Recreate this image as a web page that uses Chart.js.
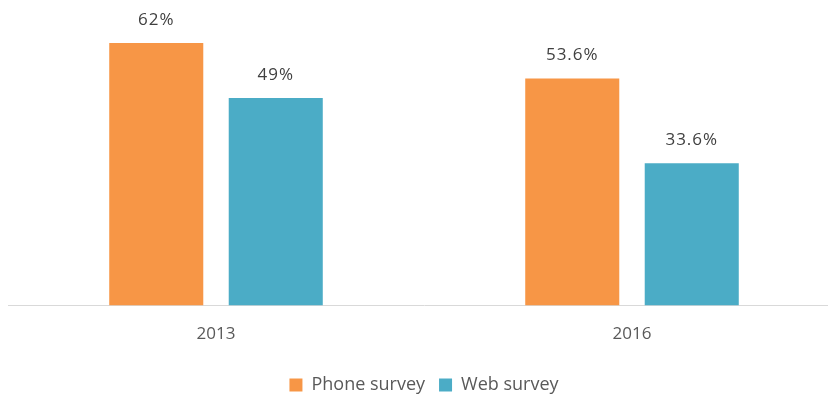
<!DOCTYPE html>
<html>
<head>
<meta charset="utf-8">
<script src="https://cdn.jsdelivr.net/npm/chart.js@4/dist/chart.umd.min.js"></script>
<style>
  html, body { margin: 0; padding: 0; background: #fff; overflow: hidden; }
  #wrap { width: 842px; height: 395px; position: relative; }
</style>
</head>
<body>
<div id="wrap"><canvas id="chart"></canvas></div>
<script>
const years = ['2013', '2016'];
const phoneSurvey = [62, 53.6];
const webSurvey = [49, 33.6];

const phoneColor = '#F79646';
const webColor = '#4BACC6';
const fontFamily = '"Open Sans", sans-serif';

// writes the value above each bar
const valueLabels = {
    id: 'valueLabels',
    afterDatasetsDraw(chart) {
        const ctx = chart.ctx;
        ctx.save();
        ctx.font = '17px ' + fontFamily;
        ctx.letterSpacing = '1px';
        ctx.fillStyle = '#404040';
        ctx.textAlign = 'center';
        ctx.textBaseline = 'middle';
        chart.data.datasets.forEach((ds, i) => {
            chart.getDatasetMeta(i).data.forEach((bar, j) => {
                ctx.fillText(ds.data[j] + '%', bar.x, bar.y - 23);
            });
        });
        ctx.restore();
    }
};

new Chart(document.getElementById('chart'), {
    type: 'bar',
    data: {
        labels: years,
        datasets: [
            {
                label: 'Phone survey',
                data: phoneSurvey,
                backgroundColor: phoneColor,
                borderWidth: 0
            },
            {
                label: 'Web survey',
                data: webSurvey,
                backgroundColor: webColor,
                borderWidth: 0
            }
        ]
    },
    options: {
        responsive: true,
        maintainAspectRatio: false,
        animation: false,
        categoryPercentage: 0.5745,
        barPercentage: 0.787,
        layout: { padding: { left: 8, right: 2, top: 9, bottom: -9 } },
        scales: {
            x: {
                grid: { display: false, drawTicks: false },
                border: { display: true, color: '#d9d9d9', width: 1 },
                ticks: {
                    color: '#595959',
                    padding: 18,
                    font: { family: fontFamily, size: 17 }
                }
            },
            y: {
                display: false,
                min: 0,
                max: 70
            }
        },
        plugins: {
            legend: {
                position: 'bottom',
                labels: {
                    boxWidth: 13,
                    boxHeight: 13,
                    padding: 14,
                    color: '#595959',
                    font: { family: fontFamily, size: 18 }
                }
            },
            tooltip: { enabled: false }
        }
    },
    plugins: [valueLabels]
});
</script>
</body>
</html>
